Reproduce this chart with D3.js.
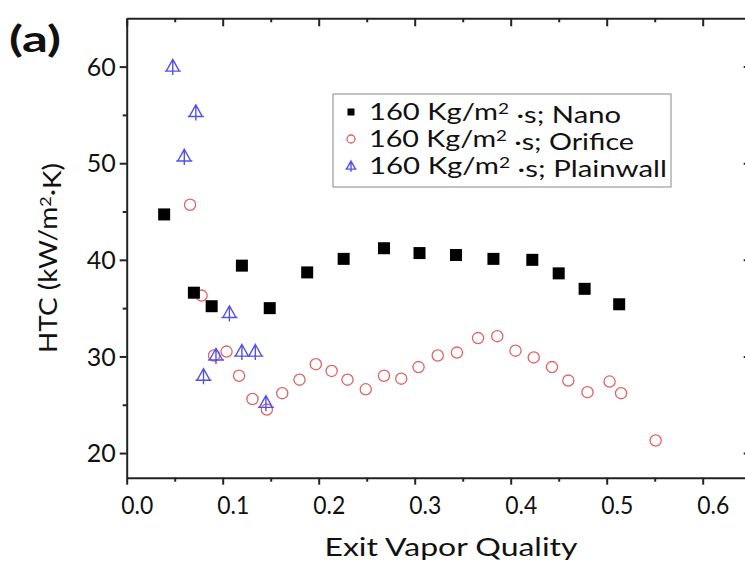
<!DOCTYPE html>
<html>
<head>
<meta charset="utf-8">
<script src="https://cdn.jsdelivr.net/npm/d3@7"></script>
<style>
  body { margin: 0; background: #fff; }
  text { font-family: Lato, "Open Sans", sans-serif; fill: #111; }
</style>
</head>
<body>
<script>
// Series: exit vapor quality vs HTC (kW/m2 K)
const nanoX = [0.039, 0.070, 0.0885, 0.120, 0.149, 0.188, 0.226, 0.268, 0.305, 0.343, 0.382, 0.4225, 0.450, 0.477, 0.513];
const nanoY = [44.7, 36.6, 35.2, 39.4, 35.0, 38.7, 40.1, 41.2, 40.7, 40.5, 40.1, 40.0, 38.6, 37.0, 35.4];

const orificeX = [0.066, 0.078, 0.091, 0.104, 0.117, 0.131, 0.146, 0.162, 0.180, 0.197, 0.2135, 0.230, 0.249, 0.268,
  0.286, 0.304, 0.324, 0.344, 0.366, 0.386, 0.405, 0.424, 0.443, 0.460, 0.480, 0.503, 0.515, 0.551];
const orificeY = [45.7, 36.3, 30.1, 30.5, 28.0, 25.6, 24.5, 26.2, 27.6, 29.2, 28.5, 27.6, 26.6, 28.0,
  27.7, 28.9, 30.1, 30.4, 31.9, 32.1, 30.6, 29.9, 28.9, 27.5, 26.3, 27.4, 26.2, 21.3];

const plainX = [0.048, 0.060, 0.072, 0.080, 0.093, 0.107, 0.120, 0.134, 0.145];
const plainY = [60.0, 50.7, 55.3, 28.0, 30.1, 34.5, 30.5, 30.5, 25.2];

const seriesNames = ["160 Kg/m|2| ·s; Nano", "160 Kg/m|2| ·s; Orifice", "160 Kg/m|2| ·s; Plainwall"];

const xTicks = [0, 0.1, 0.2, 0.3, 0.4, 0.5, 0.6];
const xMinor = [0.05, 0.15, 0.25, 0.35, 0.45, 0.55];
const yTicks = [20, 30, 40, 50, 60];
const yMinor = [25, 35, 45, 55];

const svgWidth = 745;
const svgHeight = 564;

// plot frame (right edge runs just past the window, as in the picture)
const frame = { left: 126.7, right: 750.7, top: 18.3, bottom: 477.7 };

let svg = d3.select("body")
  .append("svg")
  .attr("width", svgWidth)
  .attr("height", svgHeight);

let xScale = d3.scaleLinear().domain([0, 0.65]).range([frame.left, frame.right]);
let yScale = d3.scaleLinear().domain([17.45, 65]).range([frame.bottom, frame.top]);

// axes: major + minor ticks on each side
function drawAxis(axisFn, scale, ticks, minor, size, minorSize, transform, labels) {
  let g = svg.append("g").attr("transform", transform);
  g.call(axisFn(scale).tickValues(ticks).tickSize(size).tickSizeOuter(0)
    .tickFormat(labels || (() => "")));
  g.append("g").call(axisFn(scale).tickValues(minor).tickSize(minorSize).tickSizeOuter(0).tickFormat(() => ""))
    .select(".domain").remove();
  g.selectAll(".tick line").attr("stroke", "#222").attr("stroke-width", 2);
  g.select(".domain").attr("stroke", "#222").attr("stroke-width", 2);
  return g;
}

let bottom = drawAxis(d3.axisBottom, xScale, xTicks, xMinor, 7, 4, `translate(0,${frame.bottom})`, d3.format(".1f"));
bottom.selectAll(".tick text")
  .attr("dx", 10)
  .attr("dy", "1.05em")
  .attr("textLength", 32)
  .attr("lengthAdjust", "spacingAndGlyphs")
  .style("font-size", "25px");

drawAxis(d3.axisTop, xScale, xTicks, xMinor, -8, -4, `translate(0,${frame.top})`);

let left = drawAxis(d3.axisLeft, yScale, yTicks, yMinor, 7, 4, `translate(${frame.left},0)`, d3.format("d"));
left.selectAll(".tick text")
  .attr("x", -11)
  .attr("dy", "0.35em")
  .style("font-size", "25px");

drawAxis(d3.axisRight, yScale, yTicks, yMinor, -7, -4, `translate(${frame.right},0)`);

svg.selectAll(".domain, .tick text").attr("font-family", null);

// markers
function square(g, size) {
  g.append("rect").attr("x", -size / 2).attr("y", -size / 2)
    .attr("width", size).attr("height", size).attr("fill", "#000");
}
function circle(g, r) {
  g.append("circle").attr("r", r).attr("fill", "none")
    .attr("stroke", "#e06262").attr("stroke-width", 1.3);
}
function triangle(g, s) {
  g.append("path")
    .attr("d", `M0,${-s * 0.55}L${s * 0.5},${s * 0.35}L${-s * 0.5},${s * 0.35}Z`
      + `M0,${-s * 0.55}L0,${s * 0.65}M${-s * 0.62},${s * 0.35}L${s * 0.62},${s * 0.35}`)
    .attr("fill", "none").attr("stroke", "#5252e6").attr("stroke-width", 1.4);
}

let plot = svg.append("g");

plot.selectAll(".orifice")
  .data(d3.zip(orificeX, orificeY))
  .join("g")
  .attr("class", "orifice")
  .attr("transform", d => `translate(${xScale(d[0])},${yScale(d[1])})`)
  .each(function() { circle(d3.select(this), 5.6); });

plot.selectAll(".plain")
  .data(d3.zip(plainX, plainY))
  .join("g")
  .attr("class", "plain")
  .attr("transform", d => `translate(${xScale(d[0])},${yScale(d[1])})`)
  .each(function() { triangle(d3.select(this), 13); });

plot.selectAll(".nano")
  .data(d3.zip(nanoX, nanoY))
  .join("g")
  .attr("class", "nano")
  .attr("transform", d => `translate(${xScale(d[0])},${yScale(d[1])})`)
  .each(function() { square(d3.select(this), 12); });

// legend
let legend = svg.append("g").attr("transform", "translate(333,94)");
legend.append("rect")
  .attr("width", 338).attr("height", 93)
  .attr("fill", "#fff").attr("stroke", "#888").attr("stroke-width", 1);

const markerFns = [g => square(g, 7), g => circle(g, 4), g => triangle(g, 9)];
const legendWidths = [252, 265, 298];

seriesNames.forEach(function(name, i) {
  let row = legend.append("g").attr("transform", `translate(0,${18 + i * 27})`);
  markerFns[i](row.append("g").attr("transform", "translate(18,0)"));
  let parts = name.split("|");
  let t = row.append("text").attr("x", 36).attr("dy", "0.36em")
    .attr("textLength", legendWidths[i])
    .attr("lengthAdjust", "spacingAndGlyphs")
    .style("font-size", "23px");
  t.append("tspan").text(parts[0]);
  t.append("tspan").attr("dy", "-0.4em").style("font-size", "15px").text(parts[1]);
  t.append("tspan").attr("dy", "0.4em").text(parts[2]);
});

// axis titles and panel label
svg.append("text")
  .attr("x", 451).attr("y", 556)
  .attr("text-anchor", "middle")
  .attr("textLength", 253)
  .attr("lengthAdjust", "spacingAndGlyphs")
  .style("font-size", "25px")
  .text("Exit Vapor Quality");

let yTitle = svg.append("text")
  .attr("transform", "translate(57,258) rotate(-90)")
  .attr("text-anchor", "middle")
  .attr("textLength", 190)
  .attr("lengthAdjust", "spacingAndGlyphs")
  .style("font-size", "25px");
yTitle.append("tspan").text("HTC (kW/m");
yTitle.append("tspan").attr("dy", "-0.4em").style("font-size", "16px").text("2");
yTitle.append("tspan").attr("dy", "0.4em").text("·K)");

svg.append("text")
  .attr("x", 9).attr("y", 52)
  .attr("textLength", 52)
  .attr("lengthAdjust", "spacingAndGlyphs")
  .style("font-size", "36px")
  .style("font-weight", "bold")
  .text("(a)");
</script>
</body>
</html>
